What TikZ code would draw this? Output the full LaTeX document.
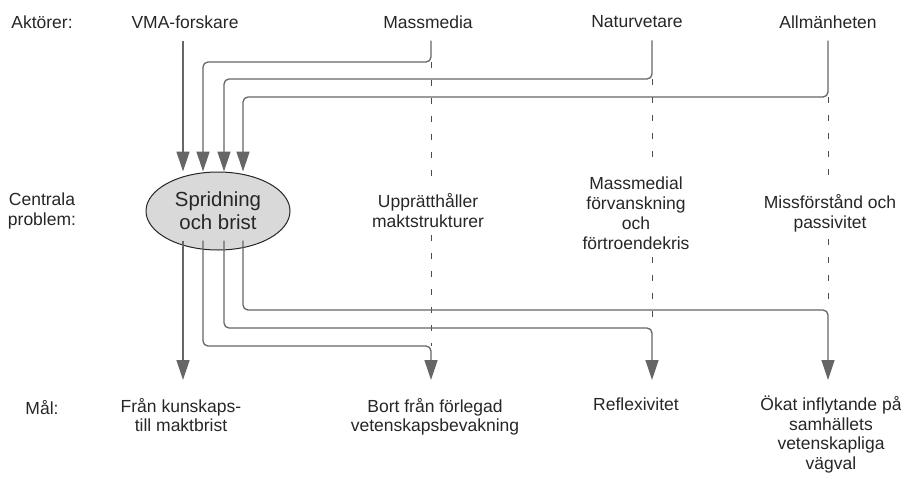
\documentclass[tikz,border=0pt]{standalone}
\usepackage{fontspec}
\setmainfont{Liberation Sans}
\usetikzlibrary{arrows.meta,shapes.geometric}
\tikzstyle{lbl}=[align=center,inner sep=3pt,text=black!85,font=\fontsize{17.5}{20}\selectfont]
\tikzstyle{prob}=[lbl,ellipse,draw=black!85,line width=1pt,fill=black!15,minimum width=144pt,minimum height=78pt,inner sep=0pt,font=\fontsize{20.4}{23}\selectfont]
\tikzstyle{goal}=[lbl,anchor=north,font=\fontsize{17.5}{19.5}\selectfont]
\tikzstyle{flow}=[draw=black!60,line width=1.3pt,rounded corners=5pt,shorten <=9pt,-{Triangle[length=20pt,width=13pt]}]
\tikzstyle{guide}=[draw=black!70,line width=0.8pt,dash pattern=on 6pt off 12pt]

\begin{document}
\begin{tikzpicture}[x=1pt,y=-1pt]
    \useasboundingbox (0,0) rectangle (901,477);
    % row labels
    \node[lbl] (lakt) at (42,22)  {Aktörer:};
    \node[lbl] (lprb) at (42,211) {Centrala\\problem:};
    \node[lbl] (lmal) at (42,408) {Mål:};
    % actors
    \node[lbl] (a1) at (185,22) {VMA-forskare};
    \node[lbl] (a2) at (428,22) {Massmedia};
    \node[lbl] (a3) at (637,22) {Naturvetare};
    \node[lbl] (a4) at (828,22) {Allmänheten};
    % problems
    \node[prob] (p1) at (218,211) {Spridning\\och brist};
    \node[lbl] (p2) at (428,211) {Upprätthåller\\maktstrukturer};
    \node[lbl] (p3) at (636,213) {Massmedial\\förvanskning\\och\\förtroendekris};
    \node[lbl] (p4) at (830,213) {Missförstånd och\\passivitet};
    % goals
    \node[goal] (g1) at (181,395) {Från kunskaps-\\till maktbrist};
    \node[goal] (g2) at (435,395) {Bort från förlegad\\vetenskapsbevakning};
    \node[goal] (g3) at (636,395) {Reflexivitet};
    \node[goal] (g4) at (831,393) {Ökat inflytande på\\samhällets\\vetenskapliga\\vägval};
    % bends
    \coordinate (t2) at (431,62);
    \coordinate (t3) at (652,79);
    \coordinate (t4) at (828,97);
    \coordinate (b2) at (431,346);
    \coordinate (b3) at (652,328);
    \coordinate (b4) at (828,310);

    \foreach \i in {2,3,4} {
        \draw[guide,shorten >=12pt] (t\i) -- (p\i.north -| t\i);
        \draw[guide,shorten <=4pt] (p\i.south -| t\i) -- (b\i);
    }

    \draw[flow] (a1.south -| 183,0) -- (p1.north -| 183,0);
    \foreach \i/\x in {2/203,3/224,4/243}
    \draw[flow] (a\i.south -| t\i) -- (t\i) -- (t\i -| \x,0) -- (p1.north -| \x,0);

    \draw[flow,shorten <=-10pt,shorten >=15pt] (p1.south -| 183,0) -- (g1.north -| 183,0);
    \foreach \i/\x in {2/203,3/224}
    \draw[flow,shorten <=-10pt,shorten >=15pt] (p1.south -| \x,0) -- (b\i -| \x,0) -- (b\i) -- (g\i.north -| b\i);
    \draw[flow,shorten <=-10pt,shorten >=13pt] (p1.south -| 243,0) -- (b4 -| 243,0) -- (b4) -- (g4.north -| b4);
\end{tikzpicture}
\end{document}
